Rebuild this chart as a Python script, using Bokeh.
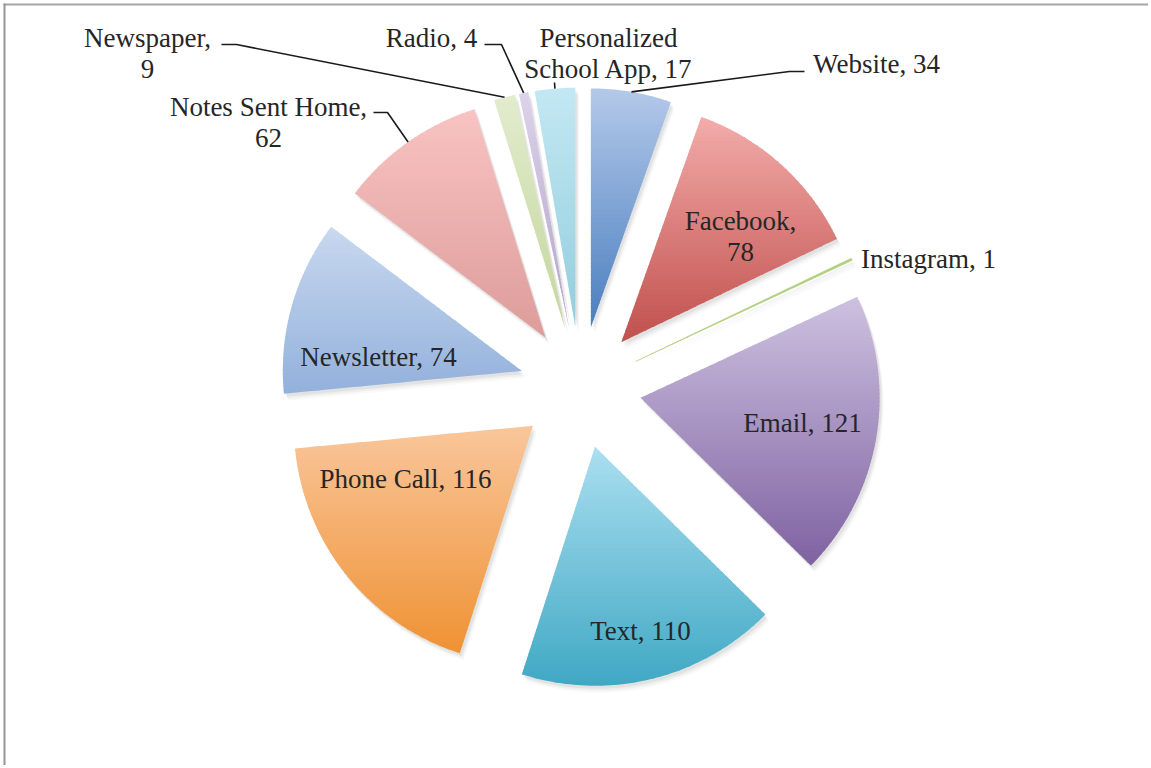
import math
from bokeh.plotting import figure
from bokeh.models import Range1d
from bokeh.core.properties import value
from bokeh.embed import file_html
from bokeh.resources import INLINE

# ---------------- data ----------------
categories = ["Website", "Facebook", "Instagram", "Email", "Text", "Phone Call",
              "Newsletter", "Notes Sent Home", "Newspaper", "Radio",
              "Personalized School App"]
counts = [34, 78, 1, 121, 110, 116, 74, 62, 9, 4, 17]
label_texts = ["Website, 34", "Facebook,\n78", "Instagram, 1", "Email, 121",
               "Text, 110", "Phone Call, 116", "Newsletter, 74",
               "Notes Sent Home,\n62", "Newspaper,\n9", "Radio, 4",
               "Personalized\nSchool App, 17"]

# ---------------- styles / layout ----------------
top_colors = ["#b4c9e9", "#f3acaa", "#e3edd0", "#cdc1e0", "#abdff0", "#f9c69b",
              "#c8d8ef", "#f8c3c2", "#e2ecce", "#dcd3ea", "#c3e8f3"]
bottom_colors = ["#4a7ebf", "#c0504d", "#b3cf80", "#7f62a1", "#40a8c4", "#ef9234",
                 "#93b1dc", "#dd9c9a", "#c3d69b", "#b3a2c7", "#92cddc"]
CX, CY = 580.0, 387.0      # pie centre (page pixels)
EXPLODE = 61.0             # explosion distance
RADIUS = 239.0
# label block centres (page pixels)
label_pos = [(876, 63), (740, 236), (928, 258), (802, 422), (640, 630),
             (405, 478), (378, 356), (268, 122), (147, 53), (431, 37), (608, 53)]
# leader line bends (from slice edge -> bend -> label end)
leaders = {0: [(789, 71), (804, 71)],
           7: [(387, 112), (373, 112)],
           8: [(236, 44), (221, 44)],
           9: [(501, 44), (484, 44)],
           10: [(554, 82)]}

W, H = 1148, 765
p = figure(width=W, height=H, output_backend="svg", toolbar_location=None,
           x_range=Range1d(0, W), y_range=Range1d(H, 0),
           min_border=0, outline_line_color=None, background_fill_color="white")
p.axis.visible = False
p.grid.visible = False


def u(a_deg):
    a = math.radians(a_deg)
    return math.sin(a), -math.cos(a)


def hex2rgb(h):
    h = h.lstrip("#")
    return tuple(int(h[i:i + 2], 16) for i in (0, 2, 4))


def mix(c1, c2, t):
    a, b = hex2rgb(c1), hex2rgb(c2)
    return "#%02x%02x%02x" % tuple(int(round(a[i] + (b[i] - a[i]) * t)) for i in range(3))


def clip(pts, yc, keep_ge):
    out = []
    n = len(pts)
    for i in range(n):
        P, Q = pts[i], pts[(i + 1) % n]
        pin = P[1] >= yc if keep_ge else P[1] <= yc
        qin = Q[1] >= yc if keep_ge else Q[1] <= yc
        if pin:
            out.append(P)
        if pin != qin:
            t = (yc - P[1]) / (Q[1] - P[1])
            out.append((P[0] + t * (Q[0] - P[0]), yc))
    return out


total = float(sum(counts))
polys, mids, apexes = [], [], []
start = 0.0
for c in counts:
    span = c / total * 360.0
    a0, a1 = start, start + span
    mid = (a0 + a1) / 2
    ux, uy = u(mid)
    ax, ay = CX + EXPLODE * ux, CY + EXPLODE * uy
    n = max(4, int(span / 1.0) + 2)
    pts = [(ax, ay)]
    for k in range(n + 1):
        a = a0 + (a1 - a0) * k / n
        vx, vy = u(a)
        pts.append((ax + RADIUS * vx, ay + RADIUS * vy))
    polys.append(pts)
    mids.append(mid)
    apexes.append((ax, ay))
    start = a1

# soft shadows
for (dx, dy, al) in [(4, 7, 0.025), (3, 5, 0.04), (2, 3, 0.05)]:
    p.patches(xs=[[q[0] + dx for q in pts] for pts in polys],
              ys=[[q[1] + dy for q in pts] for pts in polys],
              fill_color="#000000", fill_alpha=al, line_color=None)

# gradient-filled slices (horizontal bands)
bx, by, bc = [], [], []
for i, pts in enumerate(polys):
    ys = [q[1] for q in pts]
    ymin, ymax = min(ys), max(ys)
    nb = max(2, int((ymax - ymin) / 4))
    h = (ymax - ymin) / nb
    for k in range(nb):
        y0 = ymin + k * h
        y1 = y0 + h + (0.9 if k < nb - 1 else 0)
        band = clip(clip(pts, y0, True), y1, False)
        if len(band) < 3:
            continue
        bx.append([q[0] for q in band])
        by.append([q[1] for q in band])
        bc.append(mix(top_colors[i], bottom_colors[i], (k + 0.5) / nb))
p.patches(xs=bx, ys=by, fill_color=bc, line_color=None)
# thin outline for the hairline slice so it shows
ig = categories.index("Instagram")
p.patch(x=[q[0] for q in polys[ig]], y=[q[1] for q in polys[ig]],
        fill_color=bottom_colors[ig], line_color=bottom_colors[ig], line_width=0.5)

# leader lines
for i, bends in leaders.items():
    ux, uy = u(mids[i])
    ex, ey = apexes[i][0] + RADIUS * ux, apexes[i][1] + RADIUS * uy
    xs = [ex] + [b[0] for b in bends]
    ys = [ey] + [b[1] for b in bends]
    p.line(xs, ys, line_color="#1a1a1a", line_width=1.6)

# labels
p.text(x=[lp[0] for lp in label_pos], y=[lp[1] for lp in label_pos], text=label_texts,
       text_align="center", text_baseline="middle", text_color="#262626",
       text_font=value("Liberation Serif"), text_font_size="27px",
       text_line_height=1.05)

# chart border (top and left edges visible)
p.line([3, W], [4, 4], line_color="#a6a6a6", line_width=2)
p.line([4, 4], [3, H], line_color="#959595", line_width=2)

open("out.html", "w").write(file_html(p, INLINE))
